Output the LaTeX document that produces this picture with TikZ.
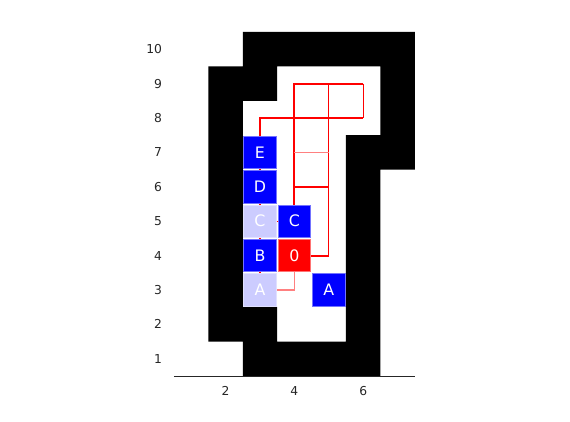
\documentclass[tikz,border=0pt]{standalone}
\usepackage{fontspec}
\setmainfont{DejaVu Sans}
\usetikzlibrary{backgrounds}
\definecolor{cellblue}{RGB}{0,0,255}
\definecolor{ghostblue}{RGB}{204,204,255}
\definecolor{axisgray}{RGB}{38,38,38}

\begin{document}
\begin{tikzpicture}[
  x=0.688cm, y=0.688cm,
  cell/.style={rectangle, inner sep=0pt, minimum width=0.65cm, minimum height=0.65cm, text=white, font=\fontsize{9}{9}\selectfont, line width=0.4pt},
  box/.style={cell, fill=cellblue, draw=cellblue!55!white},
  ghost/.style={cell, fill=ghostblue, draw=ghostblue!60!white},
  goal/.style={cell, fill=red, draw=red!55!white},
  edge/.style={red, line width=1.1pt},
  thinedge/.style={red, line width=0.6pt},
  faintedge/.style={red!50, line width=0.8pt},
  tick/.style={text=axisgray, font=\fontsize{7}{7}\selectfont},
]
  \useasboundingbox (-4.558,-0.837) rectangle (12.012,11.430);

  \node[box] (boxE) at (3,7) {E};
  \node[box] (boxD) at (3,6) {D};
  \node[ghost] (ghostC) at (3,5) {C};
  \node[box] (boxC) at (4,5) {C};
  \node[box] (boxB) at (3,4) {B};
  \node[goal] (goal) at (4,4) {0};
  \node[ghost] (ghostA) at (3,3) {A};
  \node[box] (boxA) at (5,3) {A};

  \coordinate (j46) at (4,6);
  \coordinate (j56) at (5,6);
  \coordinate (j47) at (4,7);
  \coordinate (j57) at (5,7);
  \coordinate (j68) at (6,8);
  \coordinate (j49) at (4,9);
  \coordinate (j59) at (5,9);
  \coordinate (j69) at (6,9);
  \coordinate (j54) at (5,4);

  \begin{scope}[on background layer]
    \fill[black, even odd rule]
      (2.5,10.5) -- (7.5,10.5) -- (7.5,6.5) -- (6.5,6.5) -- (6.5,0.5) -- (2.5,0.5) -- (2.5,1.5) -- (1.5,1.5) -- (1.5,9.5) -- (2.5,9.5) -- cycle
      (3.5,9.5) -- (6.5,9.5) -- (6.5,7.5) -- (5.5,7.5) -- (5.5,1.5) -- (3.5,1.5) -- (3.5,2.5) -- (2.5,2.5) -- (2.5,8.5) -- (3.5,8.5) -- cycle;

    \draw[faintedge] (ghostA.center) -| (goal.center);
    \draw[thinedge] (ghostA.center) -- (boxE.center);
    \draw[thinedge] (ghostC.center) -- (boxC.center);
    \draw[edge] (boxE.center) |- (j68);
    \draw[edge] (boxC.center) -- (j49) -- (j69);
    \draw[thinedge] (j69) -- (j68);
    \draw[edge] (goal.center) -- (j54);
    \draw[thinedge] (j54) -- (j59);
    \draw[edge] (j46) -- (j56);
    \draw[faintedge] (j47) -- (j57);
  \end{scope}

  \draw[axisgray, line width=0.5pt] (0.5,0.5) -- (7.5,0.5);
  \foreach \x in {2,4,6}
    \node[tick] (xlab\x) at (\x,0.07) {\x};
  \foreach \y in {1,...,10}
    \node[tick, anchor=east] (ylab\y) at (0.33,\y) {\y};
\end{tikzpicture}
\end{document}
